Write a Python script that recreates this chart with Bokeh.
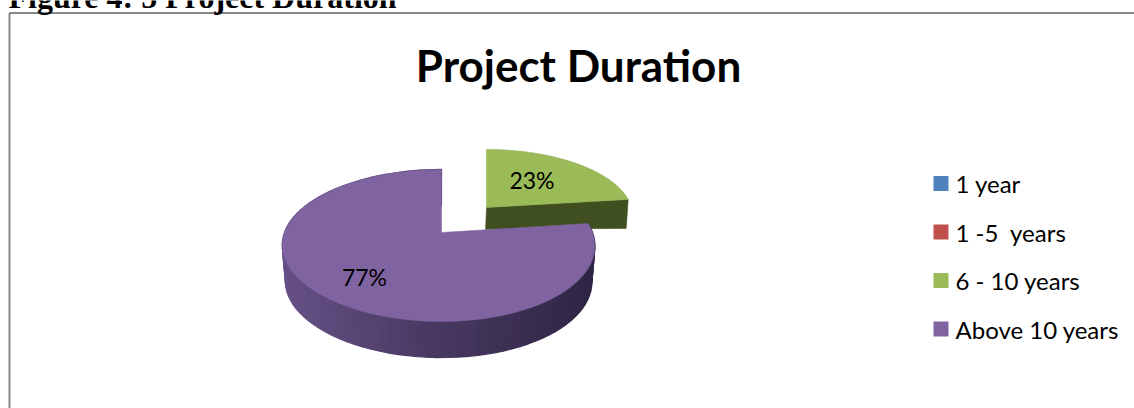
import math
from bokeh.plotting import figure
from bokeh.models import Range1d
from bokeh.core.properties import value
from bokeh.embed import file_html
from bokeh.resources import INLINE

# ---- data
categories = ["1 year", "1 -5\u00a0 years", "6 - 10 years", "Above 10 years"]
percents = [0, 0, 23, 77]
slice_colors = ["#4f81bd", "#c0504d", "#9bbb59", "#8064a2"]
caption = "Figure 4: 5 Project Duration"
chart_title = "Project Duration"

W, H = 1134, 408
p = figure(width=W, height=H, output_backend="svg", toolbar_location=None,
           x_range=Range1d(0, W), y_range=Range1d(H, 0),
           min_border=0, outline_line_color=None, background_fill_color="white")
p.axis.visible = False
p.grid.visible = False


def project(theta, ax, ay, R, S, k=0.171, skew=3.0, fu=1.0, fv=1.0):
    """theta is clockwise from twelve o'clock; perspective view of a unit disc."""
    u, v = math.sin(theta) * fu, math.cos(theta) * fv
    w = 1 + k * v
    return ax + R * u / w - skew * u * u, ay - S * v / w


def arc(a0, a1, n, **kw):
    return [project(a0 + (a1 - a0) * i / n, **kw) for i in range(n + 1)]


def mix(c0, c1, t):
    return "#%02x%02x%02x" % tuple(round(a + (b - a) * t) for a, b in zip(c0, c1))


# cumulative slice angles, clockwise from twelve o'clock
angles = []
acc = 0
for pct in percents:
    a0 = acc / sum(percents) * 2 * math.pi
    acc += pct
    angles.append((a0, acc / sum(percents) * 2 * math.pi))

g0, g1 = angles[2]
m0, m1 = angles[3]
green = dict(ax=486, ay=207, R=145, S=65, k=0.12, skew=0.0)
purple = dict(ax=441, ay=232, R=154, S=73.8)
DEPTH_G, DEPTH_P = 22, 36

# green slice: side wall first, then the top face
gtop = arc(g0, g1, 60, **green)
apex = (green["ax"], green["ay"])
end = gtop[-1]
p.patch([apex[0], end[0], end[0] - 2, apex[0] - 1],
        [apex[1], end[1], end[1] + DEPTH_G + 7, apex[1] + DEPTH_G],
        fill_color="#404f1f", line_color="#404f1f", line_width=0.5)
p.patch([apex[0]] + [q[0] for q in gtop], [apex[1]] + [q[1] for q in gtop],
        fill_color=slice_colors[2], line_color="#8aa84e", line_width=0.5)

# purple slice: shaded side wall in strips, then the top face
N = 90
ptop = arc(m0, m1, N, **purple)
side_dark = (0x2e, 0x25, 0x44)
side_mid = (0x4a, 0x3a, 0x63)
side_light = (0x66, 0x50, 0x86)
xmin, xmax = min(q[0] for q in ptop), max(q[0] for q in ptop)
for i in range(N):
    a, b = ptop[i], ptop[i + 1]
    ta = 0.5 * (a[0] + b[0])
    t = (ta - xmin) / (xmax - xmin)
    col = mix(side_light, side_mid, t / 0.45) if t < 0.45 else mix(side_mid, side_dark, (t - 0.45) / 0.55)
    sh = lambda q: q[0] + (438 - q[0]) * 0.02
    p.patch([a[0], b[0], sh(b), sh(a)], [a[1], b[1], b[1] + DEPTH_P, a[1] + DEPTH_P],
            fill_color=col, line_color=col, line_width=1.3)
p.patch([purple["ax"]] + [q[0] for q in ptop], [purple["ay"]] + [q[1] for q in ptop],
        fill_color=slice_colors[3], line_color="#8064a2", line_width=0.5)

# percent labels, placed along each slice's middle angle
label_fraction = {2: (green, 0.5, 0.6), 3: (purple, 0.68, 0.73)}
lx, ly, lt = [], [], []
for idx, (spec, fu, fv) in label_fraction.items():
    mid = 0.5 * sum(angles[idx])
    x, y = project(mid, fu=fu, fv=fv, **spec)
    lx.append(x); ly.append(y); lt.append(f"{percents[idx]}%")
p.text(lx, ly, text=lt, text_font=value("Lato"), text_font_size="23px",
       text_color="#000000", text_align="center", text_baseline="middle")

# frame, caption and title
p.line([9, 9], [H, 12.5], line_color="#868686", line_width=2)
p.line([9, W], [12.5, 12.5], line_color="#868686", line_width=2)
p.text([8], [-4], text=[caption], text_font=value("Liberation Serif"),
       text_font_style="bold", text_font_size="32px", text_color="#000000",
       text_align="left", text_baseline="alphabetic")
p.text([578], [64], text=[chart_title], text_font=value("Lato"),
       text_font_style="bold", text_font_size="44px", text_color="#000000",
       text_align="center", text_baseline="middle")

# legend
rows = [183 + 48.5 * i for i in range(len(categories))]
p.rect([940.5] * 4, rows, width=15, height=15, fill_color=slice_colors, line_color=None)
p.text([955] * 4, rows, text=categories, text_font=value("Lato"), text_font_size="24px",
       text_color="#000000", text_align="left", text_baseline="middle")

open("out.html", "w").write(file_html(p, INLINE))
